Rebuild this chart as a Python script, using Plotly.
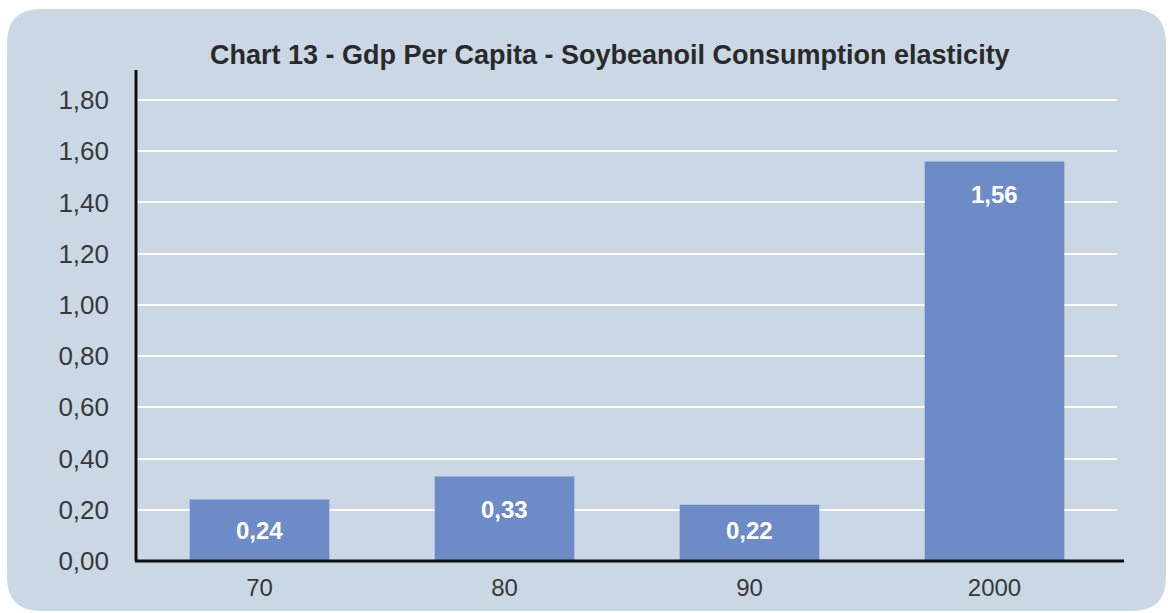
import plotly.graph_objects as go

categories = ["70", "80", "90", "2000"]
values = [0.24, 0.33, 0.22, 1.56]
value_labels = ["0,24", "0,33", "0,22", "1,56"]
title_text = "Chart 13 - Gdp Per Capita - Soybeanoil Consumption elasticity"

W, H = 1170, 613
L, R, T, B = 137, 53, 70, 52
PW, PH = W - L - R, H - T - B
YMAX = 1.917
PX_PER_UNIT = PH / YMAX

def px(x):
    return (x - L) / PW

def py(y):
    return (H - B - y) / PH

# rounded panel path in paper coords
x0, x1, y0, y1, r = 7, 1166, 9, 611, 34
path = (
    f"M {px(x0+r)},{py(y0)} L {px(x1-r)},{py(y0)} "
    f"Q {px(x1)},{py(y0)} {px(x1)},{py(y0+r)} "
    f"L {px(x1)},{py(y1-r)} Q {px(x1)},{py(y1)} {px(x1-r)},{py(y1)} "
    f"L {px(x0+r)},{py(y1)} Q {px(x0)},{py(y1)} {px(x0)},{py(y1-r)} "
    f"L {px(x0)},{py(y0+r)} Q {px(x0)},{py(y0)} {px(x0+r)},{py(y0)} Z"
)

fig = go.Figure()
fig.add_trace(go.Bar(
    x=categories, y=values,
    marker=dict(color="#6d8cc7", line=dict(width=0)),
    width=0.57,
    hoverinfo="skip",
))

annotations = []
for i, (v, t) in enumerate(zip(values, value_labels)):
    ypos = max(31 / PX_PER_UNIT, v - 33 / PX_PER_UNIT)
    annotations.append(dict(
        x=i, y=ypos, xref="x", yref="y", text=t, showarrow=False,
        xanchor="center", yanchor="middle",
        font=dict(family="Liberation Sans, Arial, sans-serif", size=24, color="white", weight="bold"),
    ))
annotations.append(dict(
    x=px(610), y=py(55), xref="paper", yref="paper", text=title_text,
    showarrow=False, xanchor="center", yanchor="middle",
    font=dict(family="Liberation Sans, Arial, sans-serif", size=27, color="#2a2a2a", weight="bold"),
))

shapes = [
    dict(type="path", path=path, xref="paper", yref="paper",
         fillcolor="#cad8e6", line=dict(width=0), layer="below"),
    dict(type="line", xref="paper", yref="paper", x0=px(135), x1=px(1124), y0=0, y1=0,
         line=dict(color="#111111", width=3), layer="above"),
    dict(type="line", xref="paper", yref="paper", x0=px(136), x1=px(136), y0=0, y1=1,
         line=dict(color="#111111", width=3), layer="above"),
]

fig.update_layout(
    width=W, height=H,
    margin=dict(l=L, r=R, t=T, b=B),
    paper_bgcolor="white",
    plot_bgcolor="rgba(0,0,0,0)",
    separators=",.",
    showlegend=False,
    annotations=annotations,
    shapes=shapes,
    font=dict(family="Liberation Sans, Arial, sans-serif", size=25, color="#333333"),
    xaxis=dict(
        type="category",
        range=[-0.5, 3.5], showgrid=False, zeroline=False, showline=False,
        ticks="", ticklabelstandoff=10,
        tickfont=dict(size=24, color="#383838"),
    ),
    yaxis=dict(
        range=[0, YMAX], dtick=0.2, tick0=0, tickformat=".2f",
        showgrid=True, gridcolor="white", gridwidth=2,
        zeroline=False, showline=False, ticks="", ticklabelstandoff=27,
        tickfont=dict(size=26, color="#383838"),
    ),
)

fig.write_html(
    "out.html",
    config={"displayModeBar": False},
    post_script="document.body.style.margin='0';document.body.style.padding='0';",
)
